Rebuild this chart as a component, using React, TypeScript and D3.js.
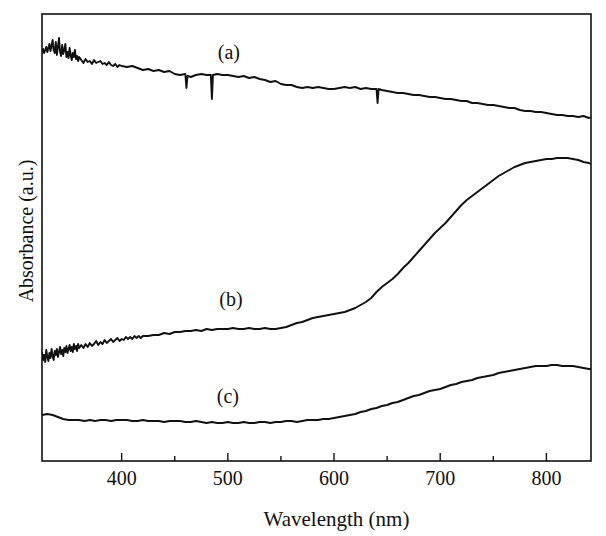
import React from "react";
import * as d3 from "d3";

// ---- Data (absorbance in arbitrary units) ----
const xTicks = [400, 500, 600, 700, 800];
const xMinorTicks = [450, 550, 650, 750];

const aWavelength = [
  325,326,327,328,329,330,331,332,333,334,335,336,337,338,339,340,341,342,343,344,345,346,347,348,349,350,351,352,353,354,355,356,357,358,359,360,
  362,364,366,368,370,372,374,376,378,380,382,384,386,388,390,392,394,396,398,400,
  405,410,415,420,425,430,435,440,445,450,455,460,461,462,465,470,475,480,484,485,486,490,495,500,505,510,515,520,525,530,535,540,545,550,555,560,565,570,575,580,585,590,595,600,605,610,615,620,625,630,635,640,641,642,645,650,655,660,665,670,675,680,685,690,695,700,705,710,715,720,725,730,735,740,745,750,755,760,765,770,775,780,785,790,795,800,805,810,815,820,825,830,835,840,842,
];
const aAbs = [
  409,412,408,411,414,409,413,417,410,415,421,411,408,419,406,414,423,409,405,416,407,411,417,404,409,403,413,406,401,408,404,411,402,405,400,404,
  401,398,402,399,400,397,401,398,399,400,397,398,396,399,396,395,397,394,396,395,
  394,395,393,391,392,390,391,389,390,387,386,387,373,385,384,386,387,386,386,362,386,387,386,386,385,384,385,383,384,382,381,379,380,377,376,376,374,373,374,373,374,373,372,372,373,374,373,374,372,373,372,372,358,372,371,370,369,368,368,367,366,366,365,364,364,363,362,362,361,360,360,358,358,357,356,356,355,354,353,353,351,350,350,349,349,348,347,346,346,345,345,344,345,343,344,
];

const bWavelength = [
  325,326,327,328,329,330,331,332,333,334,335,336,337,338,339,340,341,342,343,344,345,346,347,348,349,350,351,352,353,354,355,356,357,358,359,360,
  362,364,366,368,370,372,374,376,378,380,382,384,386,388,390,392,394,396,398,400,402,404,406,408,410,412,414,416,418,420,
  425,430,435,440,445,450,455,460,465,470,475,480,485,490,495,500,505,510,515,520,525,530,535,540,545,550,555,560,565,570,575,580,585,590,595,600,605,610,615,620,625,630,635,640,645,650,655,660,665,670,675,680,685,690,695,700,705,710,715,720,725,730,735,740,745,750,755,760,765,770,775,780,785,790,795,800,805,810,815,820,825,830,835,840,842,
];
const bAbs = [
  109,101,106,99,111,104,100,108,103,112,105,101,110,106,112,104,109,114,107,111,105,113,109,115,108,112,116,110,114,109,117,112,115,110,117,113,
  116,113,117,114,118,115,117,120,116,119,117,121,118,120,122,119,121,123,120,122,121,124,122,124,122,125,123,125,123,125,
  125,126,126,128,127,129,129,130,130,131,130,132,131,132,132,132,133,132,132,133,132,132,133,132,132,133,
  134,136,138,139,141,143,144,145,146,147,148,149,151,153,156,159,163,169,174,178,182,187,193,198,204,210,216,222,228,233,
  238,244,250,256,261,265,269,273,277,281,285,288,291,294,296,298,299,300,301,302,302,303,303,303,302,301,299,298,297,
];

const cWavelength = [
  325,330,335,340,345,350,355,360,365,370,375,380,385,390,395,400,405,410,415,420,425,430,435,440,445,450,455,460,465,470,475,480,485,490,495,500,505,510,515,520,525,530,535,540,545,550,555,560,565,570,575,580,585,590,595,600,605,610,615,620,625,630,635,640,645,650,655,660,665,670,675,680,685,690,695,700,705,710,715,720,725,730,735,740,745,750,755,760,765,770,775,780,785,790,795,800,805,810,815,820,825,830,835,840,842,
];
const cAbs = [
  46,47,46,44,42,41,41,41,40,41,40,41,41,40,41,41,41,40,40,41,40,40,40,39,40,40,40,39,39,40,39,38,39,38,38,39,38,38,39,38,38,39,39,38,39,39,40,40,39,40,41,41,41,42,42,43,44,45,46,47,49,50,52,53,55,56,58,59,61,63,65,66,68,70,71,72,74,76,77,79,80,81,83,84,85,86,88,89,90,91,92,93,94,95,95,95,96,96,95,95,95,94,93,92,92,
];

const seriesLabels = ["(a)", "(b)", "(c)"];
const labelPos = [
  { wl: 501, v: 402 },
  { wl: 503, v: 155 },
  { wl: 500, v: 58 },
];

const W = 606;
const H = 536;
const margin = { left: 42, right: 15, top: 14, bottom: 75 };

export default function App() {
  const x = d3.scaleLinear().domain([325, 842]).range([margin.left, W - margin.right]);
  const y = d3.scaleLinear().domain([0, 447]).range([H - margin.bottom, margin.top]);

  const line = d3
    .line<[number, number]>()
    .x((d) => x(d[0]))
    .y((d) => y(d[1]));

  const series = [
    aWavelength.map((w, i) => [w, aAbs[i]] as [number, number]),
    bWavelength.map((w, i) => [w, bAbs[i]] as [number, number]),
    cWavelength.map((w, i) => [w, cAbs[i]] as [number, number]),
  ];

  const x0 = margin.left;
  const x1 = W - margin.right;
  const y0 = H - margin.bottom;
  const y1 = margin.top;
  const font = "'Liberation Serif', 'Times New Roman', serif";

  return (
    <svg
      width={W}
      height={H}
      style={{ position: "absolute", left: 0, top: 0, background: "#fff" }}
      fontFamily={font}
    >
      <defs>
        <clipPath id="plotclip">
          <rect x={x0} y={y1} width={x1 - x0} height={y0 - y1} />
        </clipPath>
      </defs>
      <g clipPath="url(#plotclip)">
        {series.map((s, i) => (
          <path
            key={i}
            d={line(s) || ""}
            fill="none"
            stroke="#111"
            strokeWidth={1.9}
            strokeLinejoin="round"
          />
        ))}
      </g>
      <rect x={x0} y={y1} width={x1 - x0} height={y0 - y1} fill="none" stroke="#111" strokeWidth={1.6} />
      {xTicks.map((t) => (
        <g key={t}>
          <line x1={x(t)} x2={x(t)} y1={y0} y2={y0 - 8} stroke="#111" strokeWidth={1.4} />
          <text x={x(t)} y={y0 + 24} textAnchor="middle" fontSize={20} fill="#111">
            {t}
          </text>
        </g>
      ))}
      {xMinorTicks.map((t) => (
        <line key={t} x1={x(t)} x2={x(t)} y1={y0} y2={y0 - 5} stroke="#111" strokeWidth={1.4} />
      ))}
      {seriesLabels.map((l, i) => (
        <text
          key={l}
          x={x(labelPos[i].wl)}
          y={y(labelPos[i].v)}
          textAnchor="middle"
          fontSize={20}
          fill="#111"
        >
          {l}
        </text>
      ))}
      <text x={(x0 + x1) / 2 + 20} y={526} textAnchor="middle" fontSize={21} fill="#111">
        Wavelength (nm)
      </text>
      <text
        transform={`translate(33, ${231}) rotate(-90)`}
        textAnchor="middle"
        fontSize={20}
        fill="#111"
      >
        Absorbance (a.u.)
      </text>
    </svg>
  );
}
